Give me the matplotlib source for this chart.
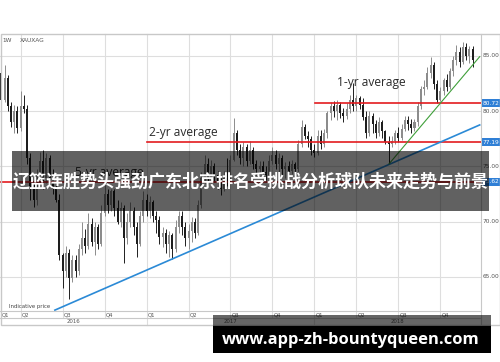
import matplotlib
matplotlib.use('Agg')
import matplotlib.pyplot as plt
import numpy as np
from matplotlib.patches import Rectangle
from matplotlib.transforms import blended_transform_factory

plt.rcParams['font.family'] = ['DejaVu Sans']

# ── data (weekly XAU/XAG candles, weeks counted from start of Q2 2016) ──
first_week = -6
first_open = 83.5
closes = [81.0, 83.0, 80.5, 79.0, 80.0, 78.5, 80.5, 80.2, 75.8, 73.0,
          72.0, 74.2, 75.5, 74.0, 75.8, 74.0, 73.0, 72.0, 67.0, 65.5,
          67.2, 64.9, 66.5, 65.5, 67.5, 68.5, 67.8, 69.8, 68.2, 69.5,
          68.0, 70.8, 72.5, 71.5, 72.8, 71.2, 70.0, 71.2, 68.5, 70.0,
          71.0, 69.5, 68.0, 70.5, 72.0, 71.0, 71.8, 70.5, 70.2, 68.6,
          69.0, 68.0, 68.8, 67.5, 69.5, 70.5, 69.5, 68.5, 69.2, 70.0,
          69.0, 71.5, 74.0, 75.2, 74.0, 75.0, 74.2, 73.5, 73.0, 74.0,
          73.6, 75.6, 78.0, 76.5, 75.8, 76.8, 75.5, 76.5, 75.2, 74.8,
          75.0, 74.5, 74.2, 75.5, 76.0, 75.2, 75.8, 74.8, 75.0, 74.6,
          75.2, 74.8, 77.0, 78.6, 77.8, 77.5, 76.5, 76.2, 77.8, 77.0,
          78.0, 79.8, 80.5, 80.0, 80.6, 79.8, 79.6, 80.2, 81.0, 80.5,
          81.2, 80.6, 79.5, 78.0, 79.6, 78.8, 78.0, 79.0, 78.2, 77.2,
          77.0, 77.3, 78.0, 77.6, 78.4, 79.2, 78.8, 78.5, 79.0, 80.5,
          82.0, 82.2, 83.5, 84.2, 82.5, 81.0, 81.8, 82.8, 82.2, 83.6,
          84.6, 85.4, 84.5, 85.8, 85.0, 85.6, 84.6]
highs = [84.0, 84.2, 83.3, 80.8, 80.6, 80.5, 81.8, 81.5, 80.6, 76.2,
         73.8, 74.8, 76.3, 76.5, 76.2, 76.0, 74.8, 74.0, 72.5, 67.2,
         67.8, 67.5, 67.0, 67.0, 68.0, 70.0, 69.3, 70.8, 70.3, 70.0,
         69.8, 71.5, 73.3, 73.0, 73.0, 73.0, 72.0, 71.8, 71.5, 70.8,
         71.8, 71.3, 70.0, 71.0, 72.8, 72.5, 72.3, 72.0, 71.0, 70.5,
         69.5, 69.3, 69.2, 69.0, 70.2, 71.0, 71.0, 70.0, 69.8, 70.4,
         70.3, 72.0, 74.5, 76.0, 75.8, 75.6, 75.3, 74.6, 74.0, 74.6,
         75.8, 76.0, 79.4, 78.3, 77.0, 77.2, 77.0, 77.3, 76.8, 75.6,
         75.5, 75.5, 75.0, 76.0, 76.8, 76.5, 76.2, 76.0, 75.4, 75.5,
         75.6, 75.4, 77.4, 79.2, 78.8, 78.2, 77.8, 77.0, 78.3, 78.3,
         78.4, 80.0, 80.8, 80.9, 81.0, 80.8, 80.3, 80.7, 81.5, 82.6,
         81.5, 81.4, 81.2, 80.0, 80.0, 79.8, 79.2, 79.5, 79.2, 78.3,
         77.8, 77.8, 78.3, 78.6, 78.8, 79.6, 79.6, 79.3, 79.3, 80.8,
         82.3, 82.8, 84.0, 84.9, 84.5, 82.8, 82.2, 83.0, 83.4, 83.9,
         85.0, 86.0, 85.8, 86.3, 86.2, 85.9, 85.9]
lows = [80.0, 80.8, 80.0, 78.6, 78.0, 78.0, 78.2, 79.8, 75.2, 72.0,
        71.3, 71.5, 73.5, 73.0, 73.5, 73.2, 72.5, 71.8, 66.5, 64.0,
        65.0, 63.0, 64.5, 65.0, 65.2, 67.0, 67.2, 67.5, 67.8, 67.0,
        67.5, 67.8, 70.5, 70.8, 71.0, 70.5, 69.8, 69.5, 66.3, 68.0,
        69.5, 68.8, 66.8, 67.8, 70.0, 70.5, 70.3, 70.0, 69.0, 68.0,
        67.7, 67.2, 66.8, 66.6, 67.3, 69.0, 68.8, 67.8, 67.5, 68.2,
        68.5, 68.8, 71.2, 73.5, 73.3, 73.5, 73.6, 73.0, 72.4, 72.8,
        73.2, 73.5, 75.5, 76.0, 75.2, 75.0, 75.0, 75.2, 74.8, 74.2,
        74.3, 74.0, 73.8, 74.0, 75.2, 74.8, 74.5, 74.2, 74.0, 74.0,
        74.3, 74.2, 74.5, 76.8, 77.5, 76.8, 76.0, 75.9, 76.0, 76.6,
        76.8, 77.6, 79.2, 79.5, 79.2, 79.4, 79.0, 79.3, 79.8, 80.0,
        80.0, 80.2, 79.2, 77.6, 77.8, 78.0, 77.6, 77.8, 77.6, 77.0,
        75.2, 76.8, 77.0, 77.2, 77.4, 78.2, 78.3, 78.0, 78.2, 78.7,
        80.2, 81.5, 82.0, 83.0, 82.0, 80.7, 80.9, 81.5, 81.8, 82.0,
        83.2, 84.2, 84.0, 84.3, 84.6, 84.4, 84.0]

averages = {'1-yr average': 80.72, '2-yr average': 77.19, '5-yr average': 73.62}
avg_start = {'1-yr average': 91.1, '2-yr average': 39.1, '5-yr average': -6.4}
avg_text_pos = {'1-yr average': (97.9, 82.56), '2-yr average': (39.8, 78.03),
                '5-yr average': (16.8, 74.41)}
blue_trend = ([10.6, 142.2], [62.0, 78.76])
green_trend = ([114.1, 142.2], [75.23, 84.94])
price_ticks = [65, 70, 75, 80, 85]
quarter_starts = [-6.4, 0, 13, 26, 39, 52, 65, 78, 91, 104, 117, 130]
quarter_labels = ['Q1', 'Q2', 'Q3', 'Q4', 'Q1', 'Q2', 'Q3', 'Q4', 'Q1', 'Q2', 'Q3', 'Q4']
years = ['2016', '2017', '2018']
year_mid = [16.3, 65.0, 116.8]
year_bounds = [39, 91]
title = '辽篮连胜势头强劲广东北京排名受挑战分析球队未来走势与前景'
site = 'www.app-zh-bountyqueen.com'

W, H = 500, 362
XMIN, XMAX = -6.4, 142.6
YMIN, YMAX = 61.92, 86.99


def fx(px):
    return px / W


def fy(py):
    return 1 - py / H


fig = plt.figure(figsize=(W / 100, H / 100), dpi=100)
fig.patch.set_facecolor('white')
ax = fig.add_axes([0, fy(311), fx(481), (311 - 34) / H])
ax.set_xlim(XMIN, XMAX)
ax.set_ylim(YMIN, YMAX)
ax.axis('off')

GRID = '#dedede'
for v in price_ticks:
    ax.axhline(v, color=GRID, lw=0.8, zorder=0)
xt = ax.get_xaxis_transform()
for q in quarter_starts[1:]:
    ax.plot([q, q], [-0.0253, 1], color=GRID, lw=0.8, transform=xt,
            clip_on=False, zorder=0)

# ── candles ──
weeks = np.arange(first_week, first_week + len(closes))
opens = np.array([first_open] + closes[:-1])
closes_a = np.array(closes)
up = closes_a >= opens
colors = np.where(up, '#8c8c8c', '#1e1e1e')
ax.vlines(weeks, lows, highs, colors=colors, lw=0.7, zorder=2)
ax.bar(weeks, np.abs(closes_a - opens), bottom=np.minimum(opens, closes_a),
       width=0.62, color=colors, linewidth=0, zorder=2)

# ── averages & trend lines ──
avg_texts = []
for name, v in averages.items():
    ax.plot([avg_start[name], XMAX], [v, v], color='#e31b1f', lw=1.2, zorder=3)
    tx, ty = avg_text_pos[name]
    avg_texts.append(ax.text(tx, ty, name, fontsize=8.5, color='#2b2b2b',
                             family='Open Sans', ha='left', va='center',
                             zorder=4))
ax.plot(*blue_trend, color='#2b8ad6', lw=1.2, zorder=3)
ax.plot(*green_trend, color='#3f9f3a', lw=0.8, zorder=3)

# ── right price scale ──
rt = blended_transform_factory(fig.transFigure, ax.transData)
for v in price_ticks:
    ax.text(fx(482.5), v, f'{v:.2f}', transform=rt, fontsize=4.2,
            color='#555555', va='center', ha='left', clip_on=False)
for v in averages.values():
    ax.text(fx(482.5), v, f'{v:.2f}', transform=rt, fontsize=4.2,
            color='white', va='center', ha='left', clip_on=False, zorder=5,
            bbox=dict(boxstyle='square,pad=0.25', facecolor='#2f7fd6',
                      edgecolor='none'))

# ── bottom axis labels ──
for q, lab in zip(quarter_starts, quarter_labels):
    ax.text(q + 0.45, -0.0145, lab, transform=xt, fontsize=3.9,
            color='#555555', ha='left', va='center', clip_on=False)
for y_lab, xm in zip(years, year_mid):
    ax.text(xm, -0.038, y_lab, transform=xt, fontsize=3.9, color='#555555',
            ha='center', va='center', clip_on=False)
for b in year_bounds:
    ax.plot([b, b], [-0.0253, -0.0505], transform=xt, color=GRID, lw=0.8,
            clip_on=False)

ax.text(XMIN + 0.9, 86.37, '1W', fontsize=4.2, color='#555555', va='center')
ax.text(XMIN + 6.2, 86.37, 'XAUXAG', fontsize=4.2, color='#555555', va='center')
ax.text(XMIN + 2.8, 62.32, 'Indicative price', fontsize=3.9, color='#444444',
        va='center')

# ── frame ──
FR = '#c8c8c8'
fig.add_artist(Rectangle((fx(0.5), fy(325)), fx(499), (325 - 34) / H,
                         transform=fig.transFigure, fill=False, edgecolor=FR, lw=1))
for y in (311, 318):
    fig.add_artist(plt.Line2D([0, fx(481)], [fy(y), fy(y)], color=FR, lw=0.8,
                              transform=fig.transFigure))
fig.add_artist(plt.Line2D([fx(481), fx(481)], [fy(34), fy(325)], color=FR,
                          lw=0.8, transform=fig.transFigure))

# ── overlays ──
fig.add_artist(Rectangle((fx(12), fy(211)), fx(477), 60 / H,
                         transform=fig.transFigure, facecolor='black',
                         alpha=0.62, edgecolor='none', zorder=10))
fig.add_artist(Rectangle((fx(213), fy(326)), fx(278), 11 / H,
                         transform=fig.transFigure, facecolor='black',
                         alpha=0.6, edgecolor='none', zorder=10))
fig.add_artist(Rectangle((fx(213), fy(353)), fx(278), 27 / H,
                         transform=fig.transFigure, facecolor='black',
                         edgecolor='none', zorder=10))

t1 = fig.text(fx(250.5), fy(182), title, color='white', fontsize=12,
              fontweight='bold', ha='center', va='center', zorder=11,
              family=['Noto Sans CJK SC', 'DejaVu Sans'])
t2 = fig.text(fx(351), fy(339.5), site, color='white', fontsize=11,
              fontweight='bold', ha='center', va='center', zorder=11,
              family=['Open Sans', 'DejaVu Sans'])

renderer = fig.canvas.get_renderer()
for t, target in [(t1, 477), (t2, 256)] + [(a, 69) for a in avg_texts]:
    w = t.get_window_extent(renderer).width
    t.set_fontsize(t.get_fontsize() * target / w)

fig.savefig('out.png', dpi=100, facecolor='white')
